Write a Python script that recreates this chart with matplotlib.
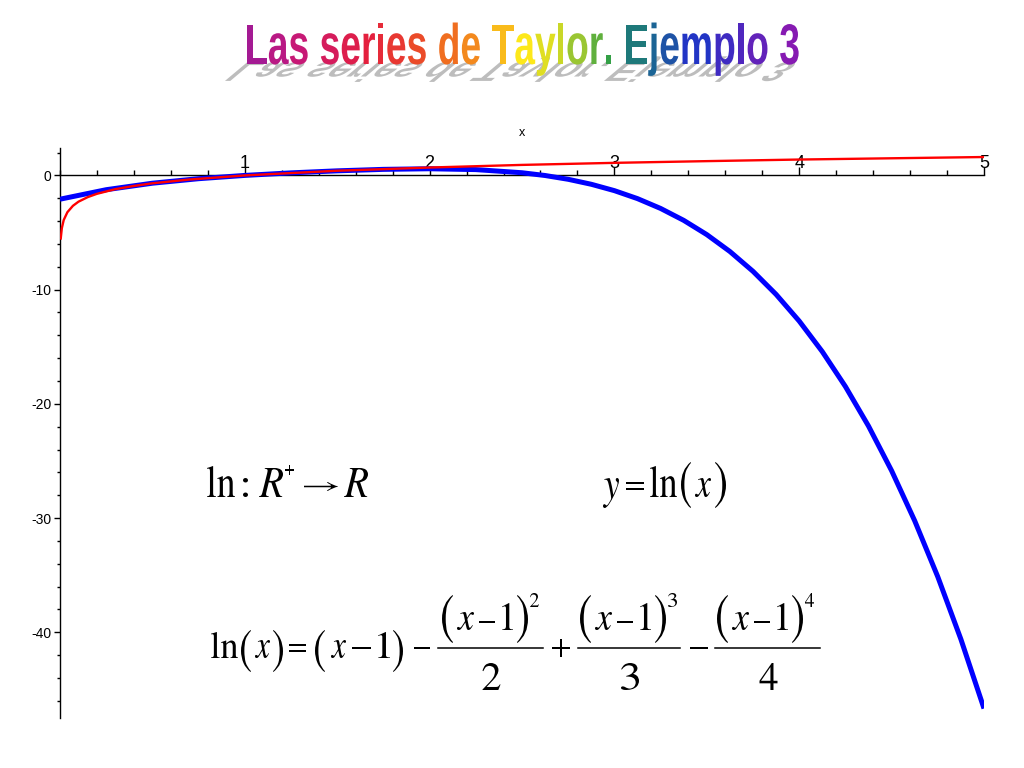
import matplotlib
matplotlib.use("Agg")
import matplotlib.pyplot as plt
from matplotlib.textpath import TextPath
from matplotlib.font_manager import FontProperties, findfont, get_font
from matplotlib.patches import PathPatch
from matplotlib.lines import Line2D
from matplotlib.transforms import Affine2D, IdentityTransform
from matplotlib.ticker import MultipleLocator
from matplotlib.colors import LinearSegmentedColormap

plt.rcParams['mathtext.fontset'] = 'stix'

# ---- data ----
x_ln = [0.004, 0.01, 0.02, 0.04, 0.07, 0.1, 0.15, 0.2, 0.3, 0.4, 0.5, 0.7,
        1.0, 1.5, 2.0, 2.5, 3.0, 3.5, 4.0, 4.5, 5.0]
y_ln = [-5.52, -4.61, -3.91, -3.22, -2.66, -2.30, -1.90, -1.61, -1.20, -0.92,
        -0.69, -0.36, 0.0, 0.41, 0.69, 0.92, 1.10, 1.25, 1.39, 1.50, 1.61]

x_taylor = [0.0, 0.25, 0.5, 0.75, 1.0, 1.25, 1.5, 1.75, 2.0, 2.25, 2.5,
            2.625, 2.75, 2.875, 3.0, 3.125, 3.25, 3.375, 3.5, 3.625, 3.75,
            3.875, 4.0, 4.125, 4.25, 4.375, 4.5, 4.625, 4.75, 4.875, 5.0]
y_taylor = [-2.083, -1.251, -0.682, -0.287, 0.0, 0.223, 0.401, 0.530, 0.583,
            0.509, 0.234, -0.008, -0.340, -0.776, -1.333, -2.032, -2.892,
            -3.934, -5.182, -6.661, -8.397, -10.417, -12.75, -15.427, -18.48,
            -21.942, -25.85, -30.236, -35.14, -40.605, -46.67]

x_major = [1, 2, 3, 4, 5]
y_major = [-40, -30, -20, -10, 0]

title = "Las series de Taylor. Ejemplo 3"
powers = ['2', '3', '4']

fig = plt.figure(figsize=(10.24, 7.68), dpi=100)
W, H = 1024, 768

# ---- plot area (Maple style axes crossing at origin) ----
ax = fig.add_axes([60 / W, 1 - 718 / H, 924 / W, 570 / H])
ax.set_xlim(0, 5)
ax.set_ylim(-47.5, 2.4)

ax.plot(x_taylor, y_taylor, color='#0000ff', lw=3.6, solid_capstyle='butt', zorder=3)
ax.plot(x_ln, y_ln, color='#ff0000', lw=1.7, zorder=4)

ax.spines['top'].set_visible(False)
ax.spines['right'].set_visible(False)
ax.spines['bottom'].set_position(('data', 0))
for s in ('left', 'bottom'):
    ax.spines[s].set_linewidth(1.0)
    ax.spines[s].set_zorder(2)

ax.set_xticks(x_major)
ax.set_xticklabels([str(v) for v in x_major])
ax.xaxis.set_minor_locator(MultipleLocator(0.2))
ax.tick_params(axis='x', which='both', direction='in', pad=-15,
               labelsize=13, width=1)
ax.tick_params(axis='x', which='major', length=6)
ax.tick_params(axis='x', which='minor', length=3.5)
for lbl in ax.get_xticklabels():
    lbl.set_fontfamily('Liberation Sans')

ax.set_yticks(y_major)
ax.set_yticklabels([str(v) for v in y_major])
ax.yaxis.set_minor_locator(MultipleLocator(2))
ax.tick_params(axis='y', which='both', direction='out', labelsize=10, width=1, pad=2)
ax.tick_params(axis='y', which='major', length=4)
ax.tick_params(axis='y', which='minor', length=2.5)
for lbl in ax.get_yticklabels():
    lbl.set_fontfamily('Liberation Sans')

ax.text(0.5, 1 + 15 / 570, 'x', transform=ax.transAxes, ha='center',
        va='center', fontsize=9, family='Liberation Sans')


# ---- formulas: each glyph fitted into a pixel box (top-origin coords) ----
def tok(s, left, right, top, bottom):
    p = TextPath((0, 0), s, size=40)
    e = p.get_extents()
    tr = (Affine2D().translate(-e.x0, -e.y0)
          .scale((right - left) / e.width, (bottom - top) / e.height)
          .translate(left, H - bottom))
    fig.add_artist(PathPatch(tr.transform_path(p), facecolor='black',
                             edgecolor='none', transform=IdentityTransform()))


def frac_bar(left, right, y):
    fig.add_artist(Line2D([left, right], [H - y, H - y], color='black',
                          lw=1.1, transform=IdentityTransform()))


LN, LP, RP = r'$\mathrm{ln}$', r'$($', r'$)$'
X, MINUS, ONE = r'$x$', r'$-$', r'$1$'

# ln : R+ -> R
tok(LN, 207, 235, 466, 497)
tok(r'$:$', 243, 248, 478, 497)
tok(r'$R$', 259, 283, 468, 497)
tok(r'$+$', 285, 294, 465, 475)
tok(r'$\rightarrow$', 304, 338, 482, 491)
tok(r'$R$', 344, 368, 468, 497)

# y = ln(x)
tok(r'$y$', 603, 619, 478, 508)
tok(r'$=$', 626, 644, 482, 490)
tok(LN, 650, 677, 466, 497)
tok(LP, 681, 691, 462, 508)
tok(X, 695, 711, 478, 497)
tok(RP, 715, 726, 462, 508)

# ln(x) = (x-1) - ...
tok(LN, 211, 238, 632, 658)
tok(LP, 241, 251, 630, 672)
tok(X, 255, 270, 640, 658)
tok(RP, 273, 283, 630, 672)
tok(r'$=$', 289, 306, 644, 652)
tok(LP, 315, 325, 630, 672)
tok(X, 331, 346, 640, 658)
tok(MINUS, 352, 371, 647, 649)
tok(ONE, 378, 390, 632, 658)
tok(RP, 393, 403, 630, 672)
tok(MINUS, 414, 430, 647, 649)

# three fractions (x-1)^k / k
num_left = [442, 580, 717]
bar_span = [(438, 543), (578, 680), (715, 820)]
for k, nl, (bl, br) in zip(powers, num_left, bar_span):
    tok(LP, nl, nl + 11, 595, 643)
    tok(X, nl + 15, nl + 32, 612, 630)
    tok(MINUS, nl + 37, nl + 53, 621, 623)
    tok(ONE, nl + 60, nl + 71, 603, 630)
    tok(RP, nl + 75, nl + 86, 595, 643)
    tok(r'$%s$' % k, nl + 88, nl + 97, 593, 607)
    frac_bar(bl, br, 648)
    c = (bl + br) / 2 + 1
    tok(r'$%s$' % k, c - 9, c + 9, 663, 690)

tok(r'$+$', 552, 570, 639, 657)
tok(MINUS, 690, 708, 647, 649)

# ---- rainbow WordArt title ----
prop = FontProperties(family='Liberation Sans', weight='bold')
size = 46
font = get_font(findfont(prop))
font.set_size(size, 72)
advances = [font.load_char(ord(c)).linearHoriAdvance / 65536 for c in title]
total = sum(advances)
x0, x1 = 245, 800
xs = (x1 - x0) / total
ys = 41 / (0.716 * size)
base = H - 64

rainbow = LinearSegmentedColormap.from_list('rb', [
    (0.00, '#9a1a9a'), (0.08, '#c4187c'), (0.22, '#e4203e'),
    (0.34, '#ee5a22'), (0.44, '#f5a01c'), (0.50, '#ffe81a'),
    (0.58, '#c0d42a'), (0.66, '#2a9c48'), (0.72, '#1a6e8a'),
    (0.82, '#2232c8'), (1.00, '#9018b0')])

off = 0.0
for c, a in zip(title, advances):
    if c != ' ':
        p = TextPath((0, 0), c, size=size, prop=prop)
        frac = (off + a / 2) / total
        sh = (Affine2D().scale(xs, -ys * 0.48).skew_deg(50, 0)
              .translate(x0 + off * xs, base + 2))
        fig.add_artist(PathPatch(sh.transform_path(p), facecolor='#bdbdbd',
                                 edgecolor='none', transform=IdentityTransform(),
                                 zorder=5))
        tr = Affine2D().scale(xs, ys).translate(x0 + off * xs, base)
        fig.add_artist(PathPatch(tr.transform_path(p), facecolor=rainbow(frac),
                                 edgecolor='none', transform=IdentityTransform(),
                                 zorder=6))
    off += a

fig.savefig('out.png', dpi=100)
